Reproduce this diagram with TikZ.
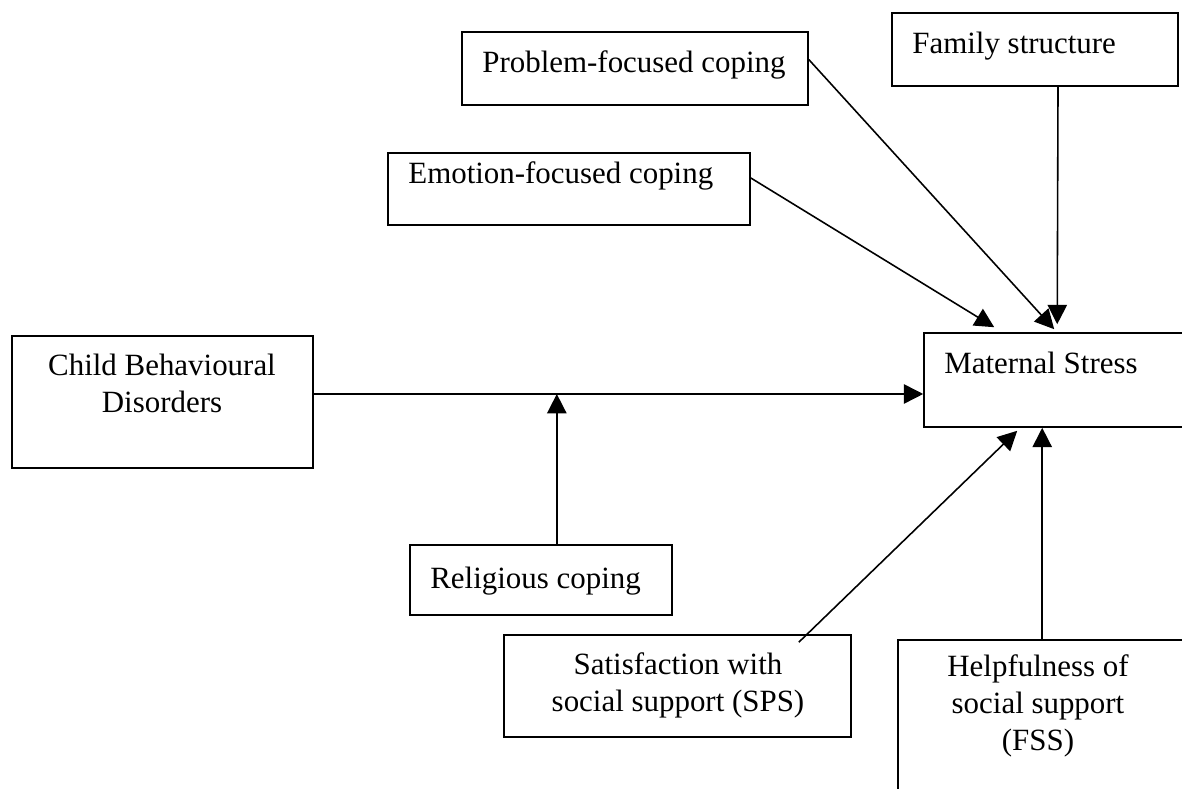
\documentclass[tikz,border=0pt]{standalone}
\usepackage{fontspec}
\setmainfont{Liberation Serif}
\usetikzlibrary{arrows.meta,calc,fit}
\begin{document}
\begin{tikzpicture}[x=0.02cm,y=-0.02cm,
  box/.style={draw,line width=0.9pt,inner sep=0pt,fit={#1}},
  lbl/.style={font=\fontsize{17.6}{21}\selectfont,inner sep=0pt},
  arr/.style={line width=0.9pt,-{Triangle[length=11pt,width=11pt]}}]
\useasboundingbox (0,0) rectangle (1182,788);
\fill[white] (0,0) rectangle (1182,788);
\clip (0,0) rectangle (1182,788);

% boxes
\node[box={(462,32) (808,105)}]   (prob)  {};
\node[box={(892,13) (1178,86)}]   (fam)   {};
\node[box={(388,153) (750,225)}]  (emo)   {};
\node[box={(12,336) (313,468)}]   (child) {};
\node[box={(924,333) (1260,427)}] (mat)   {};
\node[box={(410,545) (672,615)}]  (rel)   {};
\node[box={(504,635) (851,737)}]  (sps)   {};
\node[box={(898,640) (1260,860)}] (fss)   {};

% texts
\node[lbl,anchor=base west] (probT) at (482,72)  {Problem-focused coping};
\node[lbl,anchor=base west] (famT)  at (912,53)  {Family structure};
\node[lbl,anchor=base west] (emoT)  at (408,183) {Emotion-focused coping};
\node[lbl,anchor=base west] (matT)  at (944,373) {Maternal Stress};
\node[lbl,anchor=base west] (relT)  at (430,588) {Religious coping};
\node[lbl,align=center] (childT) at (162,383) {Child Behavioural\\Disorders};
\node[lbl,align=center] (spsT)   at (678,685) {Satisfaction with\\social support (SPS)};
\node[lbl,align=center] (fssT)   at (1038,706) {Helpfulness of\\social support\\(FSS)};

% connectors
\coordinate (cbd) at ($(child.north east)!0.44!(child.south east)$);
\draw[arr] (cbd) -- (cbd -| mat.west);

\coordinate (relTop) at ($(rel.north west)!0.56!(rel.north east)$);
\draw[arr] (relTop) -- (relTop |- cbd);

\draw[arr] ($(fam.south west)!0.58!(fam.south east)$) -- ($(mat.north west)+(134,-8)$);
\draw[arr] ($(prob.north east)!0.38!(prob.south east)$) -- ($(mat.north west)+(131,-3)$);
\draw[arr] ($(emo.north east)!0.35!(emo.south east)$) -- ($(mat.north west)+(71,-5)$);

\draw[arr] ($(sps.north east)+(-53,8)$) -- ($(mat.south west)+(94,3)$);
\coordinate (fssTop) at ($(fss.north west)+(145,0)$);
\draw[arr] (fssTop) -- (fssTop |- mat.south);
\end{tikzpicture}
\end{document}
